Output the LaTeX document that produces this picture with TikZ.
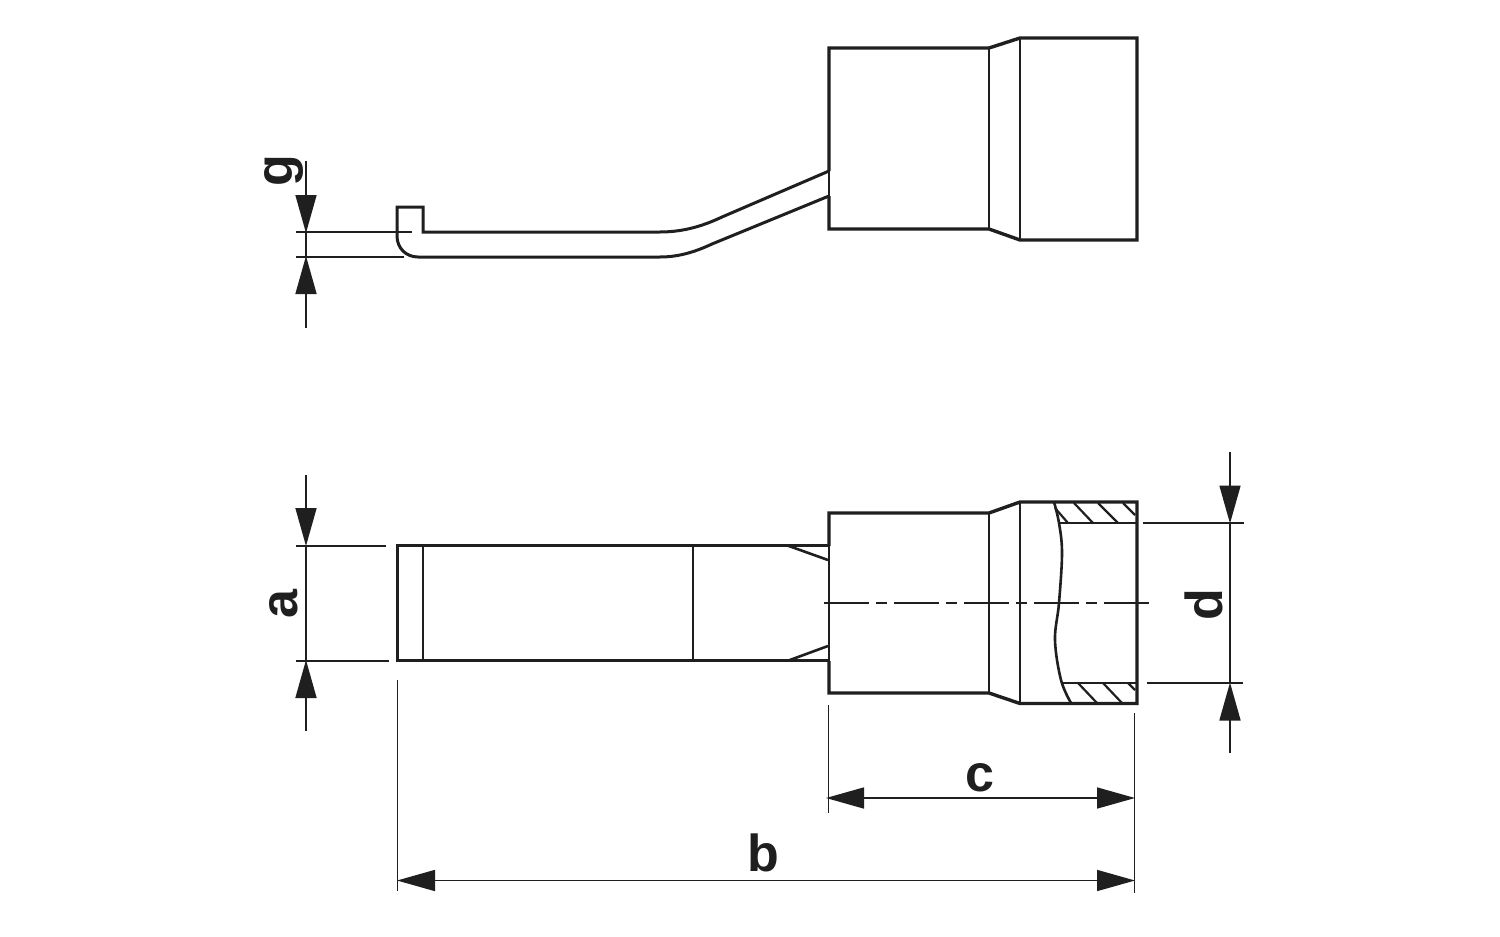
\documentclass[tikz,border=0pt]{standalone}
\usepackage{fontspec}
\setmainfont{Liberation Sans}
\usetikzlibrary{arrows.meta}
\definecolor{ink}{HTML}{1F1F1F}
\tikzset{
  outline/.style={draw=ink,line width=3.4pt,line join=miter},
  midline/.style={draw=ink,line width=2.6pt},
  thinline/.style={draw=ink,line width=1.9pt},
  hatchline/.style={draw=ink,line width=2.2pt},
  dimline/.style={draw=ink,line width=1.6pt},
  centerline/.style={draw=ink,line width=1.6pt,dash pattern=on 45pt off 7pt on 11pt off 7pt},
  dimtip/.tip={Triangle[length=38pt,width=21pt,color=ink]},
  dimlabel/.style={text=ink,font=\fontsize{52}{52}\selectfont\bfseries,inner sep=0pt,anchor=base}
}
\begin{document}
\begin{tikzpicture}[x=1pt,y=-1pt]
\useasboundingbox (0,0) rectangle (1500,937);
\fill[white] (0,0) rectangle (1500,937);

% ---------- side view ----------
\draw[outline] (829,171) -- (829,48) -- (989,48) -- (1020,38) -- (1137,38) -- (1137,240) -- (1020,240) -- (989,229) -- (829,229) -- (829,196);
\draw[thinline] (829,171) -- (829,196);
\draw[midline] (989,48) -- (989,229);
\draw[midline] (1020,38) -- (1020,240);
\draw[outline,line width=3pt] (829,171) -- (722,217) .. controls (705,225) and (685,232) .. (660,232) -- (423,232) -- (423,207) -- (397,207) -- (397,236) .. controls (397,248) and (406,257) .. (418,257) -- (660,257) .. controls (680,257) and (697,251) .. (712,244) -- (829,196);

% ---------- plan view: shaft ----------
\draw[outline] (829,545.7) -- (397.5,545.7) -- (397.5,660.7) -- (829,660.7);
\draw[thinline] (829,545.7) -- (829,660.7);
\draw[midline] (423,545.7) -- (423,660.7);
\draw[midline] (693,545.7) -- (693,660.7);
\draw[midline] (788,545.7) -- (828,560);
\draw[midline] (788,660.7) -- (828,646);

% ---------- plan view: sleeve ----------
\draw[outline] (829,661) -- (829,693) -- (989,693) -- (1020,703.5) -- (1137,703.5) -- (1137,502) -- (1020,502) -- (989,513) -- (829,513) -- (829,546);
\draw[midline] (989,513) -- (989,693);
\draw[midline] (1020,502) -- (1020,703.5);
\draw[midline] plot[smooth,tension=0.6] coordinates {(1054,502) (1059,523) (1062,553) (1059,603) (1055,640) (1061,680) (1071,703)};
\draw[midline] (1060,523) -- (1136,523);
\draw[midline] (1062,683) -- (1136,683);
\draw[hatchline] (1055,508) -- (1068,523);
\draw[hatchline] (1074,503) -- (1093,523);
\draw[hatchline] (1098,503) -- (1118,523);
\draw[hatchline] (1123,503) -- (1135,515);
\draw[hatchline] (1078,683) -- (1097,703);
\draw[hatchline] (1103,683) -- (1122,703);
\draw[hatchline] (1128,683) -- (1135,690);
\draw[centerline] (824,603) -- (1150,603);

% ---------- dimension g ----------
\draw[dimline] (296,232) -- (412,232);
\draw[dimline] (296,257) -- (404,257);
\draw[dimline] (306,232) -- (306,257);
\draw[dimline,-dimtip] (306,161) -- (306,233);
\draw[dimline,-dimtip] (306,328) -- (306,256);
\node[dimlabel,rotate=90] (lg) at (292,171) {g};

% ---------- dimension a ----------
\draw[dimline] (296,545.7) -- (386,545.7);
\draw[dimline] (296,660.7) -- (389,660.7);
\draw[dimline] (306,545.7) -- (306,660.7);
\draw[dimline,-dimtip] (306,475) -- (306,546);
\draw[dimline,-dimtip] (306,731) -- (306,660);
\node[dimlabel,rotate=90] (la) at (297.5,604.5) {a};

% ---------- dimension d ----------
\draw[dimline] (1143,523) -- (1244,523);
\draw[dimline] (1147,683) -- (1243,683);
\draw[dimline] (1230,523) -- (1230,683);
\draw[dimline,-dimtip] (1230,452) -- (1230,523.5);
\draw[dimline,-dimtip] (1230,753) -- (1230,682.5);
\node[dimlabel,rotate=90] (ld) at (1222,605) {d};

% ---------- dimensions b, c ----------
\draw[dimline] (397.5,680) -- (397.5,891);
\draw[dimline] (828.5,705) -- (828.5,813);
\draw[dimline] (1134.5,713) -- (1134.5,893);
\draw[dimline,dimtip-dimtip] (826,798) -- (1135,798);
\draw[dimline,dimtip-dimtip] (397,880.5) -- (1135,880.5);
\node[dimlabel] (lc) at (980,791) {c};
\node[dimlabel] (lb) at (763,871) {b};
\end{tikzpicture}
\end{document}
